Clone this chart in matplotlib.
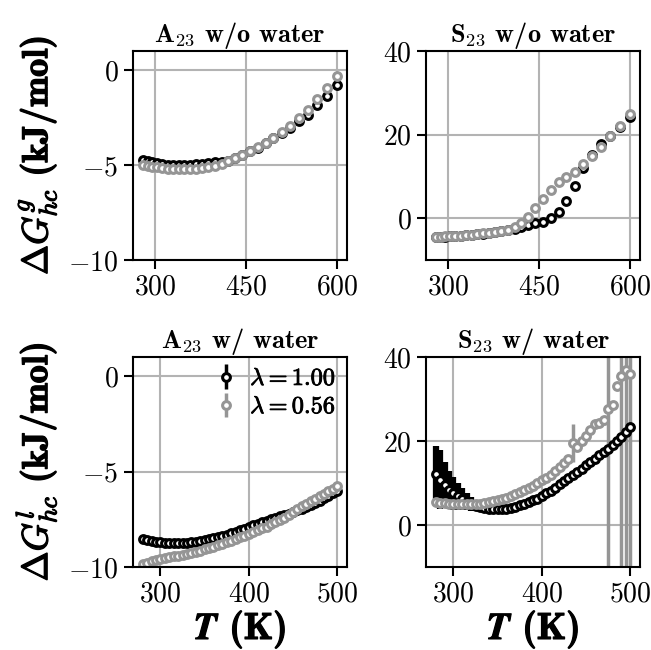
import matplotlib
matplotlib.use("Agg")
import matplotlib.pyplot as plt
import matplotlib.patheffects as pe
import numpy as np

plt.rcParams['font.family'] = 'cmr10'
plt.rcParams['mathtext.fontset'] = 'cm'
plt.rcParams['axes.formatter.use_mathtext'] = True

# --- gas phase (no water) -------------------------------------------------
T_gas = [280, 288, 296, 304, 312, 321, 330, 339, 348, 358, 367, 377, 388, 399, 410,
         421, 432, 444, 456, 469, 482, 495, 509, 523, 537, 552, 567, 583, 600]

A_gas_l100 = [-4.72, -4.80, -4.86, -4.91, -4.95, -4.98, -5.00, -5.01, -5.00, -4.99, -4.97,
              -4.94, -4.90, -4.86, -4.82, -4.77, -4.64, -4.48, -4.28, -4.09, -3.86, -3.60,
              -3.30, -3.04, -2.70, -2.35, -1.84, -1.35, -0.78]
A_gas_l056 = [-5.00, -5.05, -5.10, -5.13, -5.15, -5.19, -5.21, -5.22, -5.22, -5.22, -5.19,
              -5.15, -5.10, -5.03, -4.93, -4.79, -4.63, -4.47, -4.26, -4.07, -3.83, -3.57,
              -3.24, -2.94, -2.54, -2.10, -1.53, -0.95, -0.34]

S_gas_l100 = [-4.45, -4.45, -4.40, -4.35, -4.30, -4.20, -4.10, -4.00, -3.85, -3.70, -3.55,
              -3.35, -3.15, -2.90, -2.55, -2.15, -1.60, -1.10, -0.80, 0.00, 1.60, 4.00,
              7.70, 11.90, 15.20, 17.80, 19.60, 21.90, 24.10]
S_gas_l056 = [-4.40, -4.40, -4.35, -4.30, -4.25, -4.15, -4.05, -3.95, -3.80, -3.65, -3.50,
              -3.30, -3.05, -2.75, -2.20, -1.20, 0.40, 2.40, 4.50, 6.75, 8.60, 9.80,
              11.10, 13.00, 15.00, 17.10, 19.70, 22.10, 24.90]

# --- liquid phase (with water) --------------------------------------------
T_liq = [280, 285, 290, 295, 300, 305, 310, 315, 320, 325, 330, 335, 340, 345, 350,
         355, 360, 365, 370, 375, 380, 385, 390, 395, 400, 405, 410, 415, 420, 425,
         430, 435, 440, 445, 450, 455, 460, 465, 470, 475, 480, 485, 490, 495, 500]

A_liq_l100 = [-8.55, -8.61, -8.65, -8.68, -8.70, -8.72, -8.73, -8.74, -8.74, -8.73, -8.72,
              -8.70, -8.67, -8.64, -8.60, -8.55, -8.50, -8.44, -8.38, -8.31, -8.24, -8.16,
              -8.08, -7.99, -7.90, -7.82, -7.74, -7.66, -7.58, -7.50, -7.43, -7.35, -7.28,
              -7.20, -7.12, -7.04, -6.95, -6.85, -6.75, -6.64, -6.52, -6.40, -6.27, -6.14,
              -6.00]
A_liq_l100_err = [0.12, 0.12, 0.11, 0.11, 0.10, 0.10, 0.09, 0.09, 0.08, 0.08, 0.08,
                  0.07, 0.07, 0.07, 0.06, 0.06, 0.06, 0.06, 0.05, 0.05, 0.05, 0.05,
                  0.05, 0.05, 0.05, 0.05, 0.05, 0.05, 0.05, 0.05, 0.05, 0.05, 0.05,
                  0.05, 0.05, 0.05, 0.05, 0.05, 0.05, 0.05, 0.05, 0.05, 0.05, 0.05,
                  0.05]
A_liq_l056 = [-9.85, -9.77, -9.70, -9.65, -9.60, -9.55, -9.50, -9.45, -9.40, -9.35, -9.30,
              -9.25, -9.20, -9.14, -9.07, -9.00, -8.93, -8.86, -8.78, -8.70, -8.62, -8.54,
              -8.45, -8.36, -8.27, -8.18, -8.08, -7.98, -7.88, -7.77, -7.66, -7.54, -7.42,
              -7.26, -7.10, -6.96, -6.82, -6.68, -6.55, -6.42, -6.30, -6.17, -6.03, -5.89,
              -5.75]
A_liq_l056_err = [0.05] * len(T_liq)

S_liq_l100 = [12.2, 10.8, 9.5, 8.4, 7.5, 6.8, 6.1, 5.5, 5.0, 4.6, 4.3, 4.0, 3.8, 3.7, 3.7,
              3.8, 3.9, 4.1, 4.4, 4.7, 5.1, 5.5, 5.9, 6.3, 6.8, 7.5, 8.2, 8.9, 9.7, 10.4,
              11.1, 11.9, 12.6, 13.4, 14.2, 15.0, 15.8, 16.6, 17.4, 18.2, 19.1, 20.0, 21.0,
              22.1, 23.3]
S_liq_l100_err = [6.5, 7.0, 5.5, 4.5, 4.0, 3.2, 2.6, 2.0, 1.6, 1.2, 0.9, 0.6, 0.4, 0.3, 0.3,
                  0.3, 0.3, 0.3, 0.3, 0.3, 0.3, 0.3, 0.3, 0.3, 0.3, 0.3, 0.3, 0.3, 0.3, 0.3,
                  0.3, 0.3, 0.3, 0.3, 0.3, 0.3, 0.3, 0.3, 0.3, 0.3, 0.3, 0.3, 0.3, 0.3, 0.3]
S_liq_l056 = [5.4, 5.3, 5.2, 5.1, 5.0, 4.95, 4.9, 4.9, 4.9, 4.95, 5.0, 5.2, 5.4, 5.6, 5.9,
              6.2, 6.5, 6.9, 7.3, 7.8, 8.3, 8.8, 9.4, 10.0, 10.6, 11.3, 12.0, 12.8, 13.7, 14.7,
              15.8, 19.5, 18.5, 20.0, 21.3, 22.5, 24.0, 24.2, 25.0, 27.5, 28.6, 33.0, 35.5,
              36.8, 36.0]
S_liq_l056_err = [0.3, 0.3, 0.3, 0.3, 0.3, 0.3, 0.3, 0.3, 0.3, 0.3, 0.3, 0.3, 0.3, 0.3, 0.3,
                  0.3, 0.3, 0.3, 0.3, 0.3, 0.3, 0.3, 0.3, 0.3, 0.3, 0.3, 0.3, 0.3, 0.3, 0.3,
                  0.3, 4.5, 0.3, 0.3, 0.3, 0.3, 0.3, 0.3, 0.3, 100.0, 0.3, 0.3, 100.0, 100.0,
                  100.0]

labels = [r'$\mathbf{\lambda = 1.00}$', r'$\mathbf{\lambda = 0.56}$']
colors = ['black', '#959595']

# thicken the computer-modern glyphs a little to mimic the bold LaTeX labels
bold = [pe.withStroke(linewidth=0.9, foreground='black')]

fig = plt.figure(figsize=(6.51, 6.5), dpi=100)
ax_tl = fig.add_axes([0.2043, 0.600, 0.3287, 0.3215])
ax_tr = fig.add_axes([0.6544, 0.600, 0.3287, 0.3215])
ax_bl = fig.add_axes([0.2043, 0.1277, 0.3287, 0.3231])
ax_br = fig.add_axes([0.6544, 0.1277, 0.3287, 0.3231])

mk = dict(marker='o', ms=5.6, mew=2.2, mfc='white', ls='none')


def style(ax, title):
    ax.grid(True, color='#b3b3b3', lw=1.5)
    ax.set_axisbelow(True)
    for s in ax.spines.values():
        s.set_linewidth(1.5)
    ax.tick_params(labelsize=20, width=1.5, length=6.5, pad=4)
    ax.set_title(title, fontfamily='cmb10', fontsize=19, pad=6)


# gas phase panels
ax_tl.plot(T_gas, A_gas_l100, mec=colors[0], **mk)
ax_tl.plot(T_gas, A_gas_l056, mec=colors[1], **mk)
ax_tr.plot(T_gas, S_gas_l100, mec=colors[0], **mk)
ax_tr.plot(T_gas, S_gas_l056, mec=colors[1], **mk)

# liquid phase panels
h1 = ax_bl.errorbar(T_liq, A_liq_l100, yerr=A_liq_l100_err, color=colors[0], mec=colors[0],
                    elinewidth=2.5, capsize=0, **mk)
h2 = ax_bl.errorbar(T_liq, A_liq_l056, yerr=A_liq_l056_err, color=colors[1], mec=colors[1],
                    elinewidth=2.5, capsize=0, **mk)
ax_br.errorbar(T_liq, S_liq_l100, yerr=S_liq_l100_err, color=colors[0], mec=colors[0],
               elinewidth=4.5, capsize=0, **mk)
ax_br.errorbar(T_liq, S_liq_l056, yerr=S_liq_l056_err, color=colors[1], mec=colors[1],
               elinewidth=2.5, capsize=0, **mk)

for ax in (ax_tl, ax_tr):
    ax.set_xticks([300, 450, 600])
for ax in (ax_bl, ax_br):
    ax.set_xticks([300, 400, 500])
    ax.set_xlabel(r'$\boldsymbol{T}$ (K)', fontfamily='cmb10', fontsize=27, labelpad=0,
                  path_effects=bold)

for ax in (ax_tl, ax_bl):
    ax.set_ylim(-10, 1)
    ax.set_yticks([0, -5, -10])
for ax in (ax_tr, ax_br):
    ax.set_ylim(-10, 40)
    ax.set_yticks([0, 20, 40])

ax_tl.set_ylabel(r'$\mathbf{\Delta}\boldsymbol{G^{g}_{hc}}$ (kJ/mol)', fontfamily='cmb10',
                 fontsize=26, labelpad=7, path_effects=bold)
ax_bl.set_ylabel(r'$\mathbf{\Delta}\boldsymbol{G^{l}_{hc}}$ (kJ/mol)', fontfamily='cmb10',
                 fontsize=26, labelpad=7, path_effects=bold)

style(ax_tl, r'$\mathbf{A_{23}}$ w/o water')
style(ax_tr, r'$\mathbf{S_{23}}$ w/o water')
style(ax_bl, r'$\mathbf{A_{23}}$ w/ water')
style(ax_br, r'$\mathbf{S_{23}}$ w/ water')

leg = ax_bl.legend([h1, h2], labels, loc='upper right', frameon=False, fontsize=17.5,
                   handlelength=0.8, handletextpad=0.6, borderaxespad=0.05, labelspacing=0.25)
for t in leg.get_texts():
    t.set_path_effects([pe.withStroke(linewidth=0.6, foreground='black')])

fig.savefig('out.png', dpi=100)
